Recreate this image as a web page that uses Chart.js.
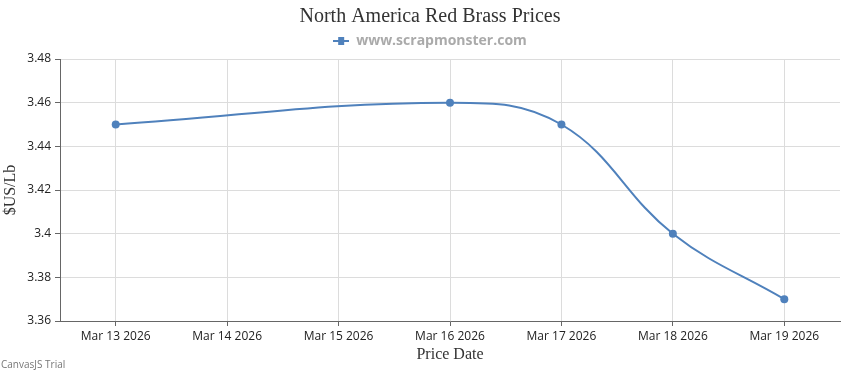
<!DOCTYPE html>
<html>
<head>
<meta charset="utf-8">
<script src="https://cdn.jsdelivr.net/npm/chart.js@4"></script>
<style>
    body { margin: 0; background: #fff; }
    #wrap { position: relative; width: 850px; height: 370px; }
    #trial { position: absolute; left: 1px; top: 357px; font: 10px "Open Sans", sans-serif; color: #777; }
</style>
</head>
<body>
<div id="wrap">
    <canvas id="PriceChart" width="850" height="370"></canvas>
    <div id="trial">CanvasJS Trial</div>
</div>
<script>
// data
const priceDays = [13, 16, 17, 18, 19];            // day of March 2026
const prices = [3.45, 3.46, 3.45, 3.40, 3.37];
const tickDays = [13, 14, 15, 16, 17, 18, 19];
const tickLabels = ["Mar 13 2026", "Mar 14 2026", "Mar 15 2026", "Mar 16 2026",
                    "Mar 17 2026", "Mar 18 2026", "Mar 19 2026"];
const yTicks = [3.36, 3.38, 3.40, 3.42, 3.44, 3.46, 3.48];

const lineColor = "#4F81BC";

// legend marker : line with a square in the middle
const marker = document.createElement("canvas");
marker.width = 16;
marker.height = 8;
const mctx = marker.getContext("2d");
mctx.fillStyle = lineColor;
mctx.fillRect(0, 3, 16, 2);
mctx.fillRect(5, 0, 6, 8);

// a little extra room under the legend
const legendSpacer = {
    id: "legendSpacer",
    beforeInit(chart) {
        const fit = chart.legend.fit;
        chart.legend.fit = function () {
            fit.apply(this, arguments);
            this.height += 1;
        };
    }
};

const price_chart_context = document.getElementById("PriceChart").getContext("2d");
new Chart(price_chart_context, {
    type: "line",
    data: {
        datasets: [{
            label: "www.scrapmonster.com",
            data: priceDays.map((d, i) => ({ x: d, y: prices[i] })),
            borderColor: lineColor,
            backgroundColor: lineColor,
            borderWidth: 2,
            pointRadius: 4,
            pointBorderWidth: 0,
            pointBackgroundColor: lineColor,
            tension: 0.4,
            fill: false
        }]
    },
    options: {
        responsive: false,
        animation: false,
        layout: { padding: { left: 20, right: 10, top: 0, bottom: 0 } },
        plugins: {
            title: {
                display: true,
                text: "North America Red Brass Prices",
                color: "#333",
                font: { family: "Liberation Serif", size: 20, weight: "normal", lineHeight: 1.2 },
                padding: { top: 5, bottom: 0 }
            },
            legend: {
                display: true,
                labels: {
                    color: "#aaa",
                    font: { family: "Open Sans", size: 14, weight: "bold" },
                    usePointStyle: true,
                    pointStyleWidth: 16,
                    padding: 5,
                    generateLabels: (chart) => [{
                        text: chart.data.datasets[0].label,
                        fontColor: "#aaa",
                        pointStyle: marker,
                        fillStyle: lineColor,
                        strokeStyle: lineColor,
                        lineWidth: 0,
                        datasetIndex: 0
                    }]
                }
            },
            tooltip: { enabled: false }
        },
        scales: {
            x: {
                type: "linear",
                min: 12.5,
                max: 19.5,
                afterBuildTicks: (scale) => { scale.ticks = tickDays.map(v => ({ value: v })); },
                afterFit: (scale) => { scale.height = 49; },
                ticks: {
                    color: "#222",
                    font: { family: "Open Sans", size: 12 },
                    padding: 3,
                    maxRotation: 0,
                    autoSkip: false,
                    callback: (v) => tickLabels[tickDays.indexOf(v)]
                },
                grid: { color: "#dcdcdc", tickColor: "#666", tickLength: 5 },
                border: { color: "#666", width: 1 },
                title: {
                    display: true,
                    text: "Price Date",
                    color: "#333",
                    font: { family: "Liberation Serif", size: 16 },
                    padding: { top: 0, bottom: 6 }
                }
            },
            y: {
                min: 3.36,
                max: 3.48,
                afterBuildTicks: (scale) => { scale.ticks = yTicks.map(v => ({ value: v })); },
                afterFit: (scale) => { scale.width = 40; },
                ticks: {
                    color: "#222",
                    font: { family: "Open Sans", size: 12 },
                    padding: 4,
                    callback: (v) => String(Number(v.toFixed(2)))
                },
                grid: { color: "#dcdcdc", tickColor: "#666", tickLength: 5 },
                border: { color: "#666", width: 1 },
                title: {
                    display: true,
                    text: "$US/Lb",
                    color: "#333",
                    font: { family: "Liberation Serif", size: 16 },
                    padding: { top: -18.6, bottom: 0 }
                }
            }
        }
    },
    plugins: [legendSpacer]
});
</script>
</body>
</html>
